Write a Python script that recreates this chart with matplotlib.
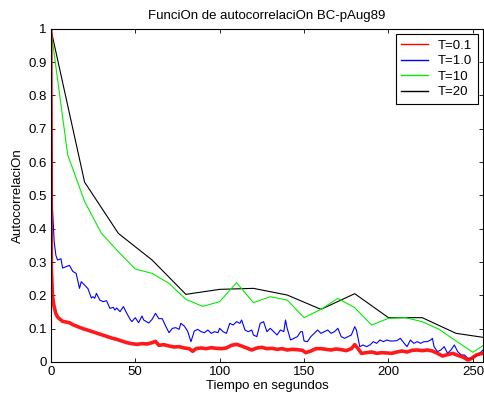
import matplotlib
matplotlib.use("Agg")
import matplotlib.pyplot as plt
from matplotlib.ticker import FormatStrFormatter

plt.rcParams['font.family'] = ['Liberation Sans', 'DejaVu Sans']

# T = 20 (sampled every 20 s)
t20_x = [0, 20, 40, 60, 80, 100, 120, 140, 160, 180, 200, 220, 240, 256]
t20_y = [1.0, 0.54, 0.386, 0.306, 0.203, 0.218, 0.221, 0.201, 0.158, 0.205,
         0.133, 0.133, 0.086, 0.074]

# T = 10 (sampled every 10 s)
t10_x = [0, 10, 20, 30, 40, 50, 60, 70, 80, 90, 100, 110, 120, 130, 140, 150,
         160, 170, 180, 190, 200, 210, 220, 230, 240, 250, 256]
t10_y = [1.0, 0.622, 0.482, 0.386, 0.331, 0.279, 0.266, 0.236, 0.188, 0.167,
         0.181, 0.238, 0.178, 0.196, 0.186, 0.133, 0.158, 0.191, 0.163, 0.111,
         0.131, 0.133, 0.121, 0.098, 0.063, 0.029, 0.049]

# T = 1.0
t1_x = [0, 1, 2, 3, 4, 6, 7, 9, 11, 13, 15, 17, 18, 20, 22, 24, 25, 26, 27, 29,
        31, 33, 35, 37, 38, 39, 41, 42, 43, 45, 47, 48, 50, 52, 54, 55, 58, 60,
        62, 64, 66, 68, 70, 72, 74, 76, 77, 79, 81, 83, 85, 87, 89, 91, 93, 95,
        97, 99, 100, 102, 104, 106, 108, 110, 112, 113, 115, 117, 119, 120, 122,
        124, 126, 128, 130, 132, 134, 136, 138, 139, 140, 142, 144, 146, 148,
        149, 150, 152, 154, 156, 158, 160, 162, 164, 166, 168, 170, 172, 174,
        176, 178, 180, 181, 183, 185, 187, 189, 191, 193, 195, 197, 199, 201,
        203, 205, 207, 209, 211, 213, 215, 217, 219, 221, 223, 225, 226, 227,
        229, 231, 233, 235, 237, 239, 241, 243, 245, 247, 249, 251, 253, 255,
        256]
t1_y = [1.0, 0.46, 0.36, 0.32, 0.306, 0.31, 0.282, 0.286, 0.29, 0.272, 0.266,
        0.221, 0.241, 0.231, 0.22, 0.192, 0.196, 0.191, 0.206, 0.186, 0.181,
        0.184, 0.161, 0.164, 0.156, 0.162, 0.151, 0.159, 0.166, 0.146, 0.128,
        0.121, 0.133, 0.118, 0.138, 0.126, 0.117, 0.128, 0.146, 0.13, 0.13,
        0.108, 0.088, 0.101, 0.103, 0.098, 0.116, 0.108, 0.093, 0.061, 0.093,
        0.098, 0.091, 0.088, 0.096, 0.086, 0.091, 0.088, 0.101, 0.091, 0.086,
        0.116, 0.111, 0.121, 0.116, 0.126, 0.096, 0.091, 0.096, 0.081, 0.076,
        0.116, 0.121, 0.091, 0.101, 0.091, 0.081, 0.096, 0.091, 0.126, 0.101,
        0.066, 0.071, 0.076, 0.091, 0.091, 0.063, 0.061, 0.076, 0.086, 0.096,
        0.086, 0.091, 0.096, 0.086, 0.091, 0.101, 0.076, 0.071, 0.076, 0.081,
        0.106, 0.096, 0.046, 0.051, 0.046, 0.051, 0.061, 0.056, 0.066, 0.061,
        0.066, 0.063, 0.063, 0.064, 0.071, 0.058, 0.046, 0.066, 0.056, 0.061,
        0.056, 0.061, 0.061, 0.066, 0.071, 0.046, 0.031, 0.036, 0.046, 0.026,
        0.036, 0.051, 0.031, 0.021, 0.021, 0.011, 0.011, 0.016, 0.021, 0.031,
        0.036]

# T = 0.1
t01_x = [0, 0.3, 1, 1.5, 2, 3, 4, 5, 7, 9, 11, 13, 15, 17, 19, 21, 24, 27, 30,
         33, 36, 39, 42, 45, 48, 51, 54, 57, 60, 62, 64, 67, 70, 73, 76, 79, 82,
         84, 86, 89, 92, 95, 98, 101, 104, 107, 110, 113, 116, 119, 122, 125,
         128, 131, 134, 137, 140, 143, 146, 149, 151, 154, 157, 160, 163, 166,
         169, 172, 175, 178, 180, 182, 184, 187, 190, 193, 196, 199, 202, 205,
         208, 211, 214, 217, 220, 223, 226, 229, 232, 235, 238, 241, 244, 247,
         249, 252, 254, 256]
t01_y = [1.0, 0.28, 0.2, 0.18, 0.165, 0.145, 0.135, 0.13, 0.122, 0.12, 0.118,
         0.112, 0.108, 0.104, 0.1, 0.097, 0.092, 0.087, 0.082, 0.077, 0.072,
         0.068, 0.063, 0.058, 0.055, 0.053, 0.055, 0.054, 0.058, 0.062, 0.05,
         0.052, 0.048, 0.045, 0.046, 0.042, 0.04, 0.032, 0.04, 0.042, 0.04,
         0.043, 0.041, 0.04, 0.042, 0.05, 0.053, 0.048, 0.042, 0.036, 0.042,
         0.044, 0.04, 0.041, 0.038, 0.04, 0.036, 0.038, 0.037, 0.035, 0.028,
         0.033, 0.04, 0.04, 0.038, 0.036, 0.039, 0.037, 0.034, 0.04, 0.052,
         0.04, 0.026, 0.028, 0.03, 0.026, 0.028, 0.027, 0.026, 0.03, 0.033,
         0.03, 0.035, 0.036, 0.034, 0.036, 0.033, 0.026, 0.018, 0.022, 0.026,
         0.02, 0.015, 0.006, 0.01, 0.021, 0.024, 0.026]

fig = plt.figure(figsize=(4.84, 3.98), dpi=100)
ax = fig.add_axes([0.105, 0.0905, 0.893, 0.837])

l20, = ax.plot(t20_x, t20_y, color='black', lw=0.8, label='T=20')
l10, = ax.plot(t10_x, t10_y, color='#00ee00', lw=0.8, label='T=10')
l1, = ax.plot(t1_x, t1_y, color='#0000ff', lw=0.8, label='T=1.0')
l01, = ax.plot(t01_x, t01_y, color='#ff0000', lw=2.6, alpha=0.9,
               label='T=0.1')

ax.set_xlim(0, 256)
ax.set_ylim(0, 1)
ax.set_xticks([0, 50, 100, 150, 200, 250])
ax.set_yticks([i / 10 for i in range(11)])
ax.yaxis.set_major_formatter(FormatStrFormatter('%g'))
ax.tick_params(direction='in', top=True, right=True, length=3, width=0.6,
               labelsize=9.5, pad=3)
for s in ax.spines.values():
    s.set_linewidth(0.8)

ax.set_title('FunciOn de autocorrelaciOn BC-pAug89', fontsize=9.5, pad=7)
ax.set_xlabel('Tiempo en segundos', fontsize=9.5, labelpad=1)
ax.set_ylabel('AutocorrelaciOn', fontsize=9.5, labelpad=3)

handles = [l01, l1, l10, l20]
leg = ax.legend(handles, [h.get_label() for h in handles], loc='upper right',
                fontsize=9.5, frameon=True, fancybox=False, edgecolor='black',
                framealpha=1, handlelength=2.0, borderaxespad=0.4,
                labelspacing=0.25, borderpad=0.4)
leg.get_frame().set_linewidth(0.8)
for lh in leg.get_lines():
    lh.set_linewidth(1.0)
    lh.set_alpha(1)

fig.savefig('out.png', dpi=100)
